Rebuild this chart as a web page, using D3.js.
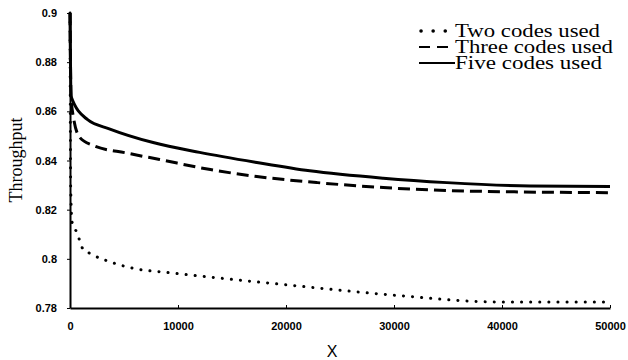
<!DOCTYPE html>
<html>
<head>
  <script src="https://d3js.org/d3.v7.min.js"></script>
  <style>
    body { margin: 0; background: #fff; }
    svg { display: block; }
    .tick text { font-family: "Liberation Sans", Arial, sans-serif; font-weight: bold; font-size: 11px; fill: #000; }
    .legend text { font-family: "Liberation Serif", "Times New Roman", serif; font-size: 18px; }
    .line { fill: none; stroke: #000; stroke-width: 3; }
  </style>
</head>
<body>
<div id="chart"></div>
<script>
// series, [x, throughput]
var twoCodes = [[0, 0.900], [60, 0.830], [185, 0.815], [650, 0.8106], [1200, 0.8040], [1850, 0.8022],
  [3700, 0.7988], [5800, 0.7962], [9300, 0.7943], [12700, 0.7927], [20100, 0.7894],
  [29800, 0.7853], [40000, 0.7824], [50000, 0.7824]];
var threeCodes = [[0, 0.900], [100, 0.866], [300, 0.858], [900, 0.8494], [2100, 0.8462], [5300, 0.8430],
  [8300, 0.8404], [13000, 0.8363], [17300, 0.8335], [22900, 0.8310], [29000, 0.8290],
  [34900, 0.8278], [42000, 0.8272], [50000, 0.8269]];
var fiveCodes = [[0, 0.900], [100, 0.866], [1600, 0.8567], [3700, 0.8528], [7700, 0.8473], [12000, 0.8433],
  [17300, 0.8392], [22200, 0.8358], [29000, 0.8328], [34900, 0.8310], [42600, 0.8296],
  [50000, 0.8294]];
var legendNames = ["Two codes used", "Three codes used", "Five codes used"];
var xTicks = [0, 10000, 20000, 30000, 40000, 50000];
var yTicks = [0.78, 0.8, 0.82, 0.84, 0.86, 0.88, 0.9];

var width = 628, height = 360;
var plotLeft = 70, plotRight = 610, plotTop = 13, plotBottom = 308;

var svg = d3.select("#chart").append("svg")
  .attr("width", width)
  .attr("height", height);

var x = d3.scaleLinear().domain([0, 50000]).range([plotLeft, plotRight]);
var y = d3.scaleLinear().domain([0.78, 0.9]).range([plotBottom, plotTop]);

/* axes */
svg.append("g")
  .attr("transform", `translate(0, ${plotBottom})`)
  .call(d3.axisBottom(x).tickValues(xTicks).tickFormat(d3.format("d")).tickSizeInner(-3).tickSizeOuter(0).tickPadding(14))
  .call(g => g.select(".domain").attr("stroke-width", 2));

svg.append("g")
  .attr("transform", `translate(${plotLeft}, 0)`)
  .call(d3.axisLeft(y).tickValues(yTicks).tickFormat(d => String(+d.toFixed(2))).tickSizeInner(3).tickSizeOuter(0).tickPadding(10))
  .call(g => g.select(".domain").attr("stroke-width", 2));

svg.append("text")
  .attr("x", 332).attr("y", 357)
  .attr("text-anchor", "middle")
  .style("font-family", "Liberation Sans, Arial, sans-serif")
  .style("font-size", "16px")
  .text("X");

svg.append("text")
  .attr("transform", "translate(22, 160) rotate(-90)")
  .attr("text-anchor", "middle")
  .style("font-family", "Liberation Serif, Times New Roman, serif")
  .style("font-size", "18px")
  .text("Throughput");

/* lines */
var line = d3.line()
  .x(d => x(d[0]))
  .y(d => y(d[1]))
  .curve(d3.curveMonotoneX);

var series = [
  {values: twoCodes, dash: "0.1,9", cap: "round"},
  {values: threeCodes, dash: "12,6", cap: "butt"},
  {values: fiveCodes, dash: null, cap: "butt"}
];

svg.selectAll(".line")
  .data(series).enter()
  .append("path")
  .attr("class", "line")
  .attr("d", d => line(d.values))
  .attr("stroke-dasharray", d => d.dash)
  .attr("stroke-linecap", d => d.cap)
  .attr("stroke-width", (d, i) => i === 0 ? 3.5 : 3);

/* legend */
var legendWidths = [145, 158, 147];
var legend = svg.append("g").attr("class", "legend");
legendNames.forEach(function(name, i) {
  var ly = 31 + i * 16;
  legend.append("line")
    .attr("x1", i === 0 ? 421 : 419).attr("x2", 455)
    .attr("y1", ly).attr("y2", ly)
    .attr("stroke", "#000")
    .attr("stroke-width", i === 0 ? 3.5 : 2)
    .attr("stroke-linecap", series[i].cap)
    .attr("stroke-dasharray", i === 0 ? "0.1,12" : (i === 1 ? "11,7" : null));
  legend.append("text")
    .attr("x", 455).attr("y", ly + 6)
    .attr("textLength", legendWidths[i])
    .attr("lengthAdjust", "spacingAndGlyphs")
    .text(name);
});
</script>
</body>
</html>
